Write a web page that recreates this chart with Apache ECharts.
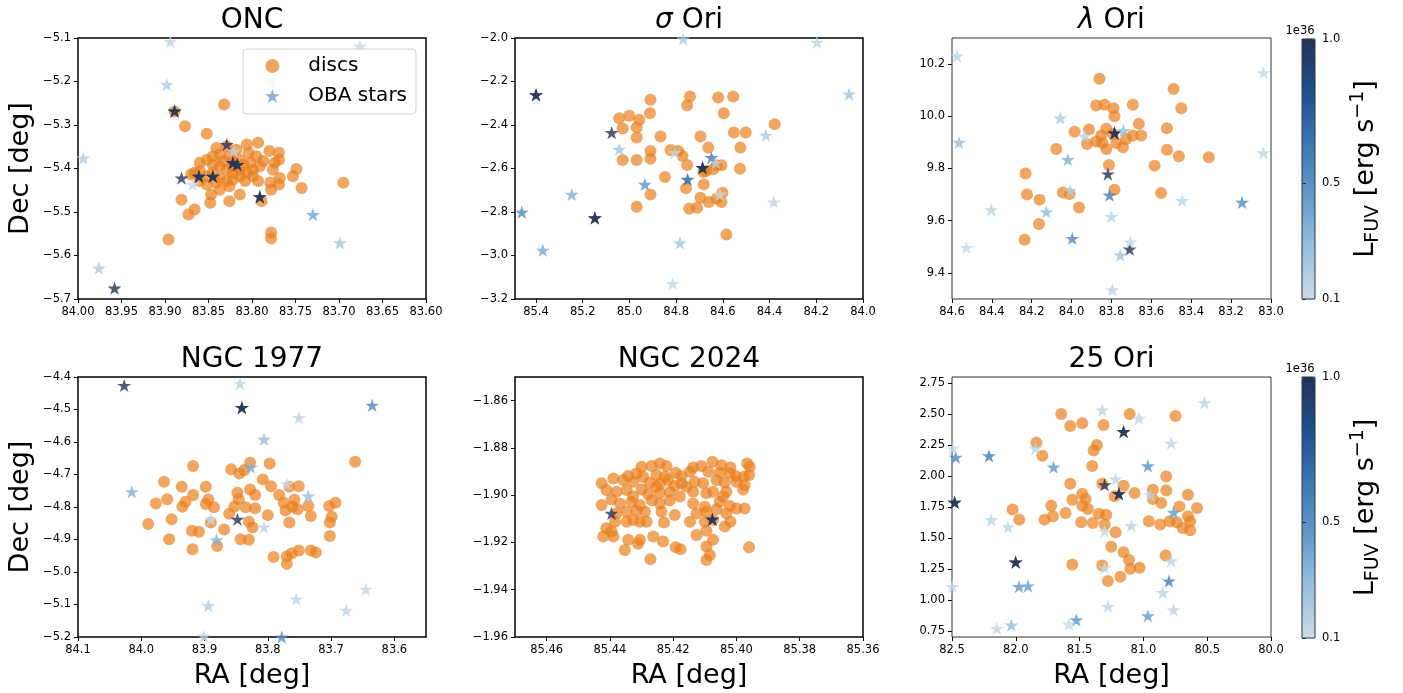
<!DOCTYPE html>
<html>
<head>
<meta charset="utf-8">
<script src="https://cdn.jsdelivr.net/npm/echarts@6/dist/echarts.min.js"></script>
<style>
  html, body { margin: 0; padding: 0; background: #ffffff; }
  #chart { width: 1403px; height: 693px; }
</style>
</head>
<body>
<div id="chart"></div>
<script>
// ---------- data: discs are [RA, Dec]; OBA stars are [RA, Dec, L_FUV / 1e36 erg s^-1] ----------
const oncDiscs = [
  [83.841,-5.353],[83.829,-5.349],[83.818,-5.357],[83.804,-5.364],[83.795,-5.372],[83.787,-5.383],
  [83.791,-5.395],[83.799,-5.403],[83.806,-5.410],[83.814,-5.418],[83.822,-5.426],[83.829,-5.429],
  [83.837,-5.422],[83.845,-5.410],[83.852,-5.418],[83.860,-5.406],[83.866,-5.410],[83.860,-5.387],
  [83.852,-5.380],[83.845,-5.372],[83.837,-5.368],[83.826,-5.372],[83.814,-5.380],[83.802,-5.387],
  [83.822,-5.395],[83.829,-5.403],[83.837,-5.395],[83.845,-5.391],[83.814,-5.403],[83.822,-5.383],
  [83.810,-5.391],[83.833,-5.383],[83.841,-5.433],[83.852,-5.437],[83.799,-5.418],[83.793,-5.429],
  [83.860,-5.429],[83.822,-5.410],[83.808,-5.429],[83.826,-5.441],[83.837,-5.449],
  [83.832,-5.253],[83.889,-5.269],[83.877,-5.303],[83.852,-5.320],[83.896,-5.563],[83.881,-5.472],
  [83.873,-5.506],[83.866,-5.494],[83.848,-5.479],[83.847,-5.460],[83.826,-5.475],[83.814,-5.460],
  [83.789,-5.475],[83.778,-5.547],[83.778,-5.561],[83.695,-5.433],[83.749,-5.401],[83.753,-5.418],
  [83.743,-5.445],[83.768,-5.422],[83.769,-5.437],[83.779,-5.432],[83.778,-5.449],[83.776,-5.403],
  [83.774,-5.387],[83.769,-5.364],[83.780,-5.360],[83.769,-5.380],[83.793,-5.341],[83.806,-5.345],
  [83.870,-5.414]
];
const oncStars = [
  [83.894,-5.108,0.15],[83.676,-5.119,0.12],[83.898,-5.207,0.20],[83.778,-5.203,0.15],[83.994,-5.376,0.20],
  [83.976,-5.629,0.20],[83.958,-5.675,1.0],[83.889,-5.268,1.0],[83.889,-5.268,1.0],[83.829,-5.345,1.0],
  [83.821,-5.360,0.15],[83.822,-5.387,1.0],[83.822,-5.387,1.0],[83.817,-5.391,1.0],[83.817,-5.391,1.0],
  [83.881,-5.422,1.0],[83.861,-5.418,1.0],[83.861,-5.418,1.0],[83.845,-5.418,1.0],[83.845,-5.418,1.0],
  [83.868,-5.437,0.12],[83.791,-5.465,1.0],[83.791,-5.465,1.0],[83.730,-5.506,0.42],[83.699,-5.571,0.25]
];

const sigmaDiscs = [
  [84.910,-2.284],[84.912,-2.346],[85.044,-2.369],[85.001,-2.358],[84.958,-2.376],[84.969,-2.412],
  [85.029,-2.416],[84.969,-2.458],[84.867,-2.453],[84.910,-2.519],[84.910,-2.555],[85.029,-2.561],
  [84.969,-2.561],[84.910,-2.719],[84.969,-2.776],[84.848,-2.639],[84.824,-2.515],[84.791,-2.519],
  [84.773,-2.542],[84.753,-2.584],[84.758,-2.691],[84.744,-2.785],[84.710,-2.781],[84.696,-2.734],
  [84.682,-2.673],[84.696,-2.453],[84.663,-2.504],[84.673,-2.612],[84.741,-2.269],[84.753,-2.309],
  [84.620,-2.274],[84.556,-2.269],[84.596,-2.346],[84.553,-2.435],[84.502,-2.435],[84.525,-2.504],
  [84.527,-2.601],[84.378,-2.396],[84.627,-2.585],[84.606,-2.585],[84.660,-2.754],[84.627,-2.739],
  [84.606,-2.754],[84.602,-2.711],[84.585,-2.904],[84.642,-2.603],[84.684,-2.616]
];
const sigmaStars = [
  [84.770,-2.005,0.20],[84.197,-2.020,0.15],[84.128,-1.986,0.15],[85.400,-2.261,1.0],[85.400,-2.261,1.0],
  [85.076,-2.435,1.0],[85.044,-2.512,0.25],[85.247,-2.719,0.35],[85.461,-2.801,0.55],[85.371,-2.976,0.40],
  [85.148,-2.827,1.0],[85.148,-2.827,1.0],[84.934,-2.673,0.50],[84.806,-2.527,0.12],[84.751,-2.650,0.75],
  [84.687,-2.596,1.0],[84.687,-2.596,1.0],[84.649,-2.550,0.60],[84.630,-2.573,0.15],[84.613,-2.719,0.10],
  [84.784,-2.942,0.25],[84.815,-3.129,0.12],[84.416,-2.447,0.20],[84.382,-2.754,0.15],[84.060,-2.258,0.25]
];

const lambdaDiscs = [
  [83.860,10.144],[83.877,10.041],[83.835,10.044],[83.790,10.031],[83.785,10.000],[83.693,10.044],
  [83.663,9.971],[83.651,9.926],[83.693,9.926],[83.743,9.881],[83.913,9.949],[83.985,9.941],
  [83.923,9.894],[83.877,9.903],[83.846,9.898],[83.826,9.875],[83.826,9.952],[83.776,9.898],
  [83.726,9.913],[84.077,9.875],[83.813,9.813],[83.785,9.719],[84.044,9.708],[84.010,9.702],
  [83.963,9.651],[84.231,9.781],[84.224,9.700],[84.161,9.680],[84.164,9.587],[84.236,9.527],
  [83.584,9.811],[83.551,9.706],[83.522,9.872],[83.522,9.954],[83.489,10.105],[83.450,10.031],
  [83.462,9.847],[83.312,9.843],[83.793,9.932],[83.851,9.926]
];
const lambdaStars = [
  [84.575,10.231,0.15],[84.565,9.900,0.30],[84.057,9.993,0.20],[83.935,9.924,0.15],[83.785,9.936,1.0],
  [83.785,9.936,1.0],[83.740,9.945,0.30],[84.019,9.834,0.35],[84.007,9.715,0.20],[84.127,9.634,0.30],
  [84.403,9.642,0.15],[84.528,9.497,0.12],[83.997,9.532,0.55],[83.818,9.779,1.0],[83.810,9.698,0.60],
  [83.801,9.616,0.15],[83.709,9.491,1.0],[83.706,9.519,0.12],[83.756,9.468,0.25],[83.796,9.335,0.15],
  [83.445,9.677,0.15],[83.038,10.167,0.12],[83.038,9.860,0.15],[83.145,9.670,0.55]
];

const ngc1977Discs = [
  [83.989,-4.852],[83.977,-4.789],[83.964,-4.722],[83.959,-4.776],[83.956,-4.899],[83.952,-4.838],
  [83.936,-4.738],[83.935,-4.799],[83.930,-4.784],[83.920,-4.873],[83.918,-4.674],[83.918,-4.763],
  [83.919,-4.930],[83.909,-4.876],[83.898,-4.738],[83.898,-4.791],[83.894,-4.777],[83.885,-4.801],
  [83.890,-4.848],[83.880,-4.920],[83.869,-4.869],[83.858,-4.684],[83.861,-4.821],[83.853,-4.799],
  [83.848,-4.756],[83.846,-4.776],[83.845,-4.697],[83.843,-4.899],[83.837,-4.686],[83.835,-4.801],
  [83.830,-4.845],[83.830,-4.901],[83.828,-4.664],[83.828,-4.746],[83.824,-4.863],[83.820,-4.763],
  [83.820,-4.804],[83.808,-4.715],[83.800,-4.825],[83.797,-4.666],[83.795,-4.736],[83.791,-4.954],
  [83.782,-4.763],[83.775,-4.787],[83.772,-4.811],[83.766,-4.848],[83.766,-4.738],[83.770,-4.952],
  [83.770,-4.975],[83.762,-4.942],[83.761,-4.799],[83.753,-4.807],[83.751,-4.736],[83.751,-4.934],
  [83.736,-4.797],[83.732,-4.828],[83.732,-4.934],[83.724,-4.940],[83.703,-4.797],[83.699,-4.830],
  [83.702,-4.848],[83.702,-4.889],[83.693,-4.787],[83.662,-4.661],[83.758,-4.778]
];
const ngc1977Stars = [
  [84.027,-4.426,1.0],[83.844,-4.420,0.15],[83.841,-4.494,1.0],[83.841,-4.494,1.0],[83.751,-4.525,0.15],
  [83.635,-4.487,0.55],[83.806,-4.592,0.30],[83.827,-4.678,0.35],[84.015,-4.753,0.35],[83.770,-4.729,0.12],
  [83.736,-4.766,0.30],[83.890,-4.838,0.12],[83.848,-4.838,1.0],[83.881,-4.901,0.35],[83.806,-4.862,0.15],
  [83.894,-5.104,0.20],[83.755,-5.083,0.15],[83.676,-5.118,0.15],[83.645,-5.053,0.12],[83.778,-5.200,0.50],
  [83.901,-5.198,0.15]
];

const ngc2024Discs = [
  [85.4300,-1.8880],[85.4268,-1.8877],[85.4242,-1.8866],[85.4221,-1.8877],[85.4137,-1.8883],
  [85.4111,-1.8877],[85.4076,-1.8859],[85.4047,-1.8873],[85.4019,-1.8883],[85.3966,-1.8866],
  [85.4342,-1.8919],[85.4316,-1.8908],[85.4295,-1.8922],[85.4253,-1.8915],[85.4226,-1.8922],
  [85.4192,-1.8905],[85.4174,-1.8919],[85.4147,-1.8901],[85.4089,-1.8901],[85.4053,-1.8905],
  [85.4021,-1.8908],[85.4002,-1.8919],[85.3977,-1.8922],[85.3960,-1.8915],[85.4426,-1.8950],
  [85.4389,-1.8929],[85.4358,-1.8936],[85.4326,-1.8943],[85.4274,-1.8947],[85.4242,-1.8953],
  [85.4216,-1.8936],[85.4195,-1.8961],[85.4174,-1.8950],[85.4132,-1.8943],[85.4105,-1.8950],
  [85.4063,-1.8936],[85.4037,-1.8947],[85.4000,-1.8943],[85.3974,-1.8957],[85.4411,-1.8978],
  [85.4379,-1.8985],[85.4347,-1.8978],[85.4300,-1.8976],[85.4279,-1.8995],[85.4242,-1.8992],
  [85.4211,-1.8985],[85.4179,-1.9006],[85.4137,-1.8985],[85.4095,-1.8992],[85.4074,-1.8985],
  [85.4032,-1.8985],[85.3979,-1.8976],[85.4426,-1.9042],[85.4395,-1.9018],[85.4368,-1.9035],
  [85.4332,-1.9028],[85.4305,-1.9042],[85.4268,-1.9021],[85.4242,-1.9035],[85.4211,-1.9023],
  [85.4137,-1.9035],[85.4100,-1.9049],[85.4053,-1.9028],[85.4021,-1.9046],[85.4000,-1.9056],
  [85.3974,-1.9056],[85.4379,-1.9077],[85.4347,-1.9070],[85.4316,-1.9066],[85.4289,-1.9070],
  [85.4237,-1.9070],[85.4195,-1.9084],[85.4126,-1.9077],[85.4095,-1.9070],[85.4063,-1.9060],
  [85.4032,-1.9077],[85.4411,-1.9140],[85.4384,-1.9112],[85.4347,-1.9112],[85.4326,-1.9105],
  [85.4305,-1.9112],[85.4284,-1.9112],[85.4229,-1.9116],[85.4147,-1.9112],[85.4100,-1.9112],
  [85.4074,-1.9105],[85.4037,-1.9133],[85.4019,-1.9112],[85.4421,-1.9175],[85.4389,-1.9175],
  [85.4342,-1.9189],[85.4305,-1.9189],[85.4263,-1.9175],[85.4232,-1.9196],[85.4126,-1.9168],
  [85.4095,-1.9150],[85.4074,-1.9189],[85.4353,-1.9232],[85.4311,-1.9206],[85.4192,-1.9220],
  [85.4177,-1.9229],[85.4095,-1.9217],[85.4084,-1.9253],[85.4095,-1.9274],[85.4272,-1.9271],
  [85.3960,-1.9220],[85.3958,-1.8880],[85.4395,-1.9154],[85.4253,-1.8964],[85.4326,-1.9006],
  [85.4158,-1.8964],[85.4042,-1.9006]
];
const ngc2024Stars = [
  [85.4395,-1.9077,1.0],[85.4076,-1.9102,1.0],[85.4076,-1.9102,1.0]
];

const ori25Discs = [
  [81.644,2.501],[81.573,2.404],[81.479,2.426],[81.312,2.412],[81.364,2.251],[81.390,2.206],
  [81.401,2.082],[81.839,2.270],[81.792,2.163],[81.108,2.501],[80.748,2.485],[81.573,1.938],
  [81.557,1.809],[81.479,1.857],[81.453,1.814],[81.435,1.734],[81.479,1.761],[81.349,1.696],
  [81.396,1.621],[81.291,1.688],[81.303,1.608],[81.322,1.938],[81.487,1.627],[81.722,1.761],
  [81.709,1.675],[81.775,1.648],[82.025,1.729],[81.973,1.648],[81.610,1.702],[81.218,1.546],
  [81.226,1.836],[81.155,1.922],[81.069,1.863],[81.252,1.428],[81.155,1.385],[81.113,1.321],
  [81.103,1.251],[81.030,1.259],[81.181,1.187],[81.278,1.152],[81.322,1.278],[81.557,1.286],
  [80.926,1.814],[80.926,1.889],[80.957,1.635],[80.860,1.782],[80.821,1.997],[80.821,1.884],
  [80.868,1.608],[80.795,1.635],[80.739,1.627],[80.717,1.755],[80.691,1.581],[80.651,1.849],
  [80.580,1.742],[80.651,1.675],[80.633,1.635],[80.633,1.562],[80.826,1.359]
];
const ori25Stars = [
  [81.322,2.533,0.15],[81.035,2.466,0.15],[81.155,2.359,1.0],[81.155,2.359,1.0],[80.521,2.592,0.15],
  [80.782,2.265,0.15],[81.845,2.224,0.15],[82.210,2.163,0.60],[82.471,2.152,0.55],[82.492,2.225,0.12],
  [81.704,2.072,0.45],[80.965,2.082,0.50],[81.218,1.975,0.15],[81.304,1.930,1.0],[81.192,1.857,1.0],
  [81.192,1.857,1.0],[80.946,1.849,0.15],[82.479,1.787,1.0],[82.479,1.787,1.0],[80.764,1.707,0.45],
  [82.192,1.648,0.15],[82.061,1.589,0.15],[81.095,1.600,0.15],[81.304,1.554,0.12],[82.518,1.581,0.12],
  [82.001,1.305,1.0],[82.001,1.305,1.0],[81.304,1.259,0.12],[80.782,1.313,0.15],[81.975,1.107,0.45],
  [81.905,1.112,0.45],[80.800,1.152,0.60],[80.847,1.058,0.15],[82.497,1.107,0.12],[80.764,0.919,0.15],
  [81.278,0.946,0.15],[80.965,0.871,0.45],[81.526,0.838,0.50],[81.584,0.804,0.12],[82.035,0.796,0.30],
  [82.148,0.769,0.15]
];

// ---------- tick labels ----------
const oncRaTicks = [84.00, 83.95, 83.90, 83.85, 83.80, 83.75, 83.70, 83.65, 83.60];
const oncDecTicks = [-5.7, -5.6, -5.5, -5.4, -5.3, -5.2, -5.1];
const sigmaRaTicks = [85.4, 85.2, 85.0, 84.8, 84.6, 84.4, 84.2, 84.0];
const sigmaDecTicks = [-3.2, -3.0, -2.8, -2.6, -2.4, -2.2, -2.0];
const lambdaRaTicks = [84.6, 84.4, 84.2, 84.0, 83.8, 83.6, 83.4, 83.2, 83.0];
const lambdaDecTicks = [9.4, 9.6, 9.8, 10.0, 10.2];
const ngc1977RaTicks = [84.1, 84.0, 83.9, 83.8, 83.7, 83.6];
const ngc1977DecTicks = [-5.2, -5.1, -5.0, -4.9, -4.8, -4.7, -4.6, -4.5, -4.4];
const ngc2024RaTicks = [85.46, 85.44, 85.42, 85.40, 85.38, 85.36];
const ngc2024DecTicks = [-1.96, -1.94, -1.92, -1.90, -1.88, -1.86];
const ori25RaTicks = [82.5, 82.0, 81.5, 81.0, 80.5, 80.0];
const ori25DecTicks = [0.75, 1.00, 1.25, 1.50, 1.75, 2.00, 2.25, 2.50, 2.75];
const lfuvTicks = [0.1, 0.5, 1.0];
const lfuvRange = [0.1, 1.0];

// ---------- panels ----------
const panels = [
  { title: 'ONC',         discs: oncDiscs,     stars: oncStars,     ra: [83.60, 84.00], dec: [-5.7, -5.1],   raTicks: oncRaTicks,     decTicks: oncDecTicks,     raDp: 2, decDp: 1 },
  { title: '{i|σ} Ori',   discs: sigmaDiscs,   stars: sigmaStars,   ra: [84.0, 85.49],  dec: [-3.2, -2.0],   raTicks: sigmaRaTicks,   decTicks: sigmaDecTicks,   raDp: 1, decDp: 1 },
  { title: '{i|λ} Ori',   discs: lambdaDiscs,  stars: lambdaStars,  ra: [83.0, 84.6],   dec: [9.3, 10.3],    raTicks: lambdaRaTicks,  decTicks: lambdaDecTicks,  raDp: 1, decDp: 1 },
  { title: 'NGC 1977',    discs: ngc1977Discs, stars: ngc1977Stars, ra: [83.55, 84.1],  dec: [-5.2, -4.4],   raTicks: ngc1977RaTicks, decTicks: ngc1977DecTicks, raDp: 1, decDp: 1 },
  { title: 'NGC 2024',    discs: ngc2024Discs, stars: ngc2024Stars, ra: [85.36, 85.47], dec: [-1.96, -1.85], raTicks: ngc2024RaTicks, decTicks: ngc2024DecTicks, raDp: 2, decDp: 2 },
  { title: '25 Ori',      discs: ori25Discs,   stars: ori25Stars,   ra: [80.0, 82.5],   dec: [0.70, 2.80],   raTicks: ori25RaTicks,   decTicks: ori25DecTicks,   raDp: 1, decDp: 2 }
];

// ---------- layout ----------
const colLeft = [78, 515, 952];
const colWidth = [348, 348, 319];
const rowTop = [38, 377];
const rowHeight = [261, 260];
const cbarLeft = 1302, cbarWidth = 13;

const FONT = 'DejaVu Sans';
const STAR = 'path://M50,0L61.23,34.55L97.55,34.55L68.17,55.9L79.39,90.45L50,69.1L20.61,90.45L31.83,55.9L2.45,34.55L38.77,34.55Z';
const blues = ['#c9dbe7', '#97c0dc', '#5f9aca', '#3a78b3', '#1c4f8c', '#243359'];

const fmt = (dp) => (v) => Number(v).toFixed(dp).replace('-', '\u2212');
const tickLabel = { fontFamily: FONT, fontSize: 11.5, color: '#000' };

const grids = [], xAxes = [], yAxes = [], series = [], graphics = [];

panels.forEach((p, i) => {
  const r = Math.floor(i / 3), c = i % 3;
  const thin = c === 2;
  grids.push({
    left: colLeft[c], top: rowTop[r], width: colWidth[c], height: rowHeight[r],
    show: true, borderColor: thin ? '#333' : '#000', borderWidth: thin ? 1 : 1.5,
    backgroundColor: 'transparent', z: 1
  });
  xAxes.push({
    type: 'value', gridIndex: i, min: p.ra[0], max: p.ra[1], inverse: true,
    splitLine: { show: false },
    axisLine: { show: false },
    axisTick: { show: true, length: 4, customValues: p.raTicks, lineStyle: { color: '#000', width: 1 } },
    axisLabel: { ...tickLabel, margin: 7, customValues: p.raTicks, formatter: fmt(p.raDp), hideOverlap: false }
  });
  yAxes.push({
    type: 'value', gridIndex: i, min: p.dec[0], max: p.dec[1],
    splitLine: { show: false },
    axisLine: { show: false },
    axisTick: { show: true, length: 4, customValues: p.decTicks, lineStyle: { color: '#000', width: 1 } },
    axisLabel: { ...tickLabel, margin: 7, customValues: p.decTicks, formatter: fmt(p.decDp), hideOverlap: false }
  });
  series.push({
    type: 'scatter', name: 'discs', xAxisIndex: i, yAxisIndex: i, data: p.discs,
    symbol: 'circle', symbolSize: 12, silent: true, emphasis: { disabled: true },
    itemStyle: { color: '#ea7f1c', opacity: 0.7 }, z: 2
  });
  series.push({
    type: 'scatter', name: 'OBA stars', xAxisIndex: i, yAxisIndex: i, data: p.stars,
    symbol: STAR, symbolSize: 14, symbolKeepAspect: true, silent: true, emphasis: { disabled: true },
    itemStyle: { color: '#6f9fcc', opacity: 0.8 }, z: 3
  });

  // panel title
  graphics.push({
    type: 'text', x: colLeft[c] + colWidth[c] / 2, y: r === 0 ? 21 : 360, z: 10,
    style: {
      text: p.title, fill: '#000', fontFamily: FONT, fontSize: 28,
      align: 'center', verticalAlign: 'middle', textAlign: 'center', textVerticalAlign: 'middle',
      rich: { i: { fontFamily: FONT, fontSize: 28, fontStyle: 'italic', fill: '#000' } }
    }
  });
});

// axis titles
[0, 1].forEach((r) => {
  graphics.push({
    type: 'text', x: 21, y: rowTop[r] + rowHeight[r] / 2, rotation: Math.PI / 2, z: 10,
    style: { text: 'Dec [deg]', fill: '#000', fontFamily: FONT, fontSize: 27,
      align: 'center', verticalAlign: 'middle', textAlign: 'center', textVerticalAlign: 'middle' }
  });
});
[0, 1, 2].forEach((c) => {
  graphics.push({
    type: 'text', x: colLeft[c] + colWidth[c] / 2, y: 676, z: 10,
    style: { text: 'RA [deg]', fill: '#000', fontFamily: FONT, fontSize: 27,
      align: 'center', verticalAlign: 'middle', textAlign: 'center', textVerticalAlign: 'middle' }
  });
});

// colour bars: gradient from visualMap, frame and ticks from a small grid
const visualMaps = [];
[0, 1].forEach((r) => {
  const top = r === 0 ? 39 : 377;
  const h = r === 0 ? 260 : 261;
  visualMaps.push({
    type: 'continuous', show: true, calculable: false, hoverLink: false,
    seriesIndex: r === 0 ? [1, 3, 5] : [7, 9, 11], dimension: 2,
    min: lfuvRange[0], max: lfuvRange[1], inRange: { color: blues },
    orient: 'vertical', left: cbarLeft, top: top, itemWidth: cbarWidth, itemHeight: h,
    padding: 0, text: null, z: 4
  });
  const gi = 6 + r;
  grids.push({ left: cbarLeft, top: top, width: cbarWidth, height: h, show: true,
    borderColor: '#333', borderWidth: 1, backgroundColor: 'transparent', z: 6 });
  xAxes.push({ type: 'value', gridIndex: gi, show: false, min: 0, max: 1 });
  yAxes.push({
    type: 'value', gridIndex: gi, position: 'right', min: lfuvRange[0], max: lfuvRange[1], z: 6,
    splitLine: { show: false }, axisLine: { show: false },
    axisTick: { show: true, length: 4, customValues: lfuvTicks, lineStyle: { color: '#333', width: 1 } },
    axisLabel: { ...tickLabel, margin: 7, customValues: lfuvTicks, formatter: fmt(1), hideOverlap: false }
  });
  graphics.push({
    type: 'text', x: 1300, y: top - 8, z: 10,
    style: { text: '1e36', fill: '#000', fontFamily: FONT, fontSize: 11.5,
      align: 'center', verticalAlign: 'middle', textAlign: 'center', textVerticalAlign: 'middle' }
  });
  graphics.push({
    type: 'text', x: 1366, y: top + h / 2, rotation: Math.PI / 2, z: 10,
    style: {
      text: 'L{sub|FUV} [erg s{sup|\u22121}]', fill: '#000', fontFamily: FONT, fontSize: 27, lineHeight: 34,
      align: 'center', verticalAlign: 'middle', textAlign: 'center', textVerticalAlign: 'middle',
      rich: {
        sub: { fontFamily: FONT, fontSize: 19, lineHeight: 19, verticalAlign: 'bottom', fill: '#000' },
        sup: { fontFamily: FONT, fontSize: 19, lineHeight: 19, verticalAlign: 'top', fill: '#000' }
      }
    }
  });
});

const chart = echarts.init(document.getElementById('chart'), null, { renderer: 'canvas' });
chart.setOption({
  animation: false,
  backgroundColor: '#ffffff',
  grid: grids,
  xAxis: xAxes,
  yAxis: yAxes,
  visualMap: visualMaps,
  legend: {
    data: [{ name: 'discs', icon: 'circle' }, { name: 'OBA stars', icon: STAR }],
    orient: 'vertical', left: 243, top: 49,
    itemWidth: 56, itemHeight: 14, itemGap: 6,
    padding: [5, 9, 6, 22],
    selectedMode: false,
    backgroundColor: 'rgba(255,255,255,0.8)', borderColor: '#d0d0d0', borderWidth: 1, borderRadius: 4,
    textStyle: { fontFamily: FONT, fontSize: 20, color: '#000', lineHeight: 24, padding: [0, 0, 0, 3] },
    z: 8
  },
  series: series,
  graphic: { elements: graphics }
});
</script>
</body>
</html>
